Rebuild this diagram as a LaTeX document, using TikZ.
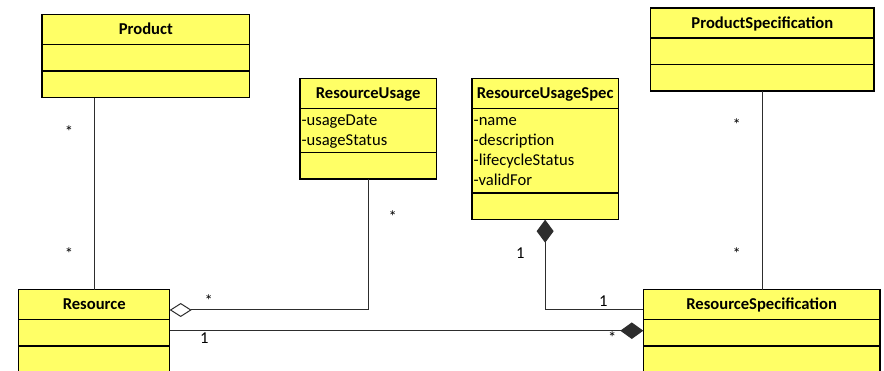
\documentclass[tikz,border=0pt]{standalone}
\usepackage{fontspec}
\setmainfont{Carlito}
\usetikzlibrary{arrows.meta}
\definecolor{clsfill}{RGB}{255,255,102}
\definecolor{linecol}{RGB}{45,45,45}
\tikzset{
 cls/.style={rectangle, draw=black, line width=1.3pt, fill=clsfill, inner sep=0pt, outer sep=0pt},
 divider/.style={draw=black, line width=1.3pt},
 ttl/.style={font=\bfseries\fontsize{16.6}{20}\selectfont, anchor=base, inner sep=0pt},
 attr/.style={font=\fontsize{16.6}{20}\selectfont, anchor=base west, inner sep=0pt},
 mult/.style={font=\fontsize{16.6}{20}\selectfont, anchor=base, inner sep=0pt},
 conn/.style={draw=linecol, line width=1pt},
 aggr/.style={conn, arrows={Diamond[open, length=22pt, width=14pt, line width=1pt]-}},
 compS/.style={conn, arrows={Diamond[length=23pt, width=17pt]-}},
 compE/.style={conn, arrows={-Diamond[length=23pt, width=16.5pt]}},
}
% name, x1, y1, x2, y2, divider1, divider2
\newcommand{\umlcls}[7]{%
 \node[cls, minimum width={#4-#2}, minimum height={#5-#3}] (#1) at ({(#2+#4)/2},{(#3+#5)/2}) {};
 \draw[divider] (#1.west |- 0,#6) -- (#1.east |- 0,#6);
 \draw[divider] (#1.west |- 0,#7) -- (#1.east |- 0,#7);
}
\begin{document}
\begin{tikzpicture}[x=1pt,y=-1pt]
\useasboundingbox (0,0) rectangle (884,371);
\clip (0,0) rectangle (884,371);

% classes
\umlcls{product}{42}{14.3}{249.7}{97.7}{44.3}{71}
\node[ttl] (product-t) at (145.85,34.6) {Product};

\umlcls{ru}{300}{78.7}{436.3}{179}{108.7}{152.3}
\node[ttl] (ru-t) at (368.15,99) {ResourceUsage};
\node[attr] (ru-a1) at (301.3,126) {-usageDate};
\node[attr] (ru-a2) at (301.3,146) {-usageStatus};

\umlcls{rus}{472}{78.7}{618.3}{219.7}{108.7}{193}
\node[ttl] (rus-t) at (545.15,99) {ResourceUsageSpec};
\node[attr] (rus-a1) at (473.5,126) {-name};
\node[attr] (rus-a2) at (473.5,146) {-description};
\node[attr] (rus-a3) at (473.5,166) {-lifecycleStatus};
\node[attr] (rus-a4) at (473.5,186) {-validFor};

\umlcls{ps}{650.7}{8}{874}{91}{38}{64.7}
\node[ttl] (ps-t) at (762.35,28.3) {ProductSpecification};

\umlcls{resource}{18.7}{289.7}{169.7}{372.7}{319.7}{346}
\node[ttl] (resource-t) at (94.2,310) {Resource};

\umlcls{rs}{643.3}{289.7}{880}{372.7}{319.7}{346}
\node[ttl] (rs-t) at (761.65,310) {ResourceSpecification};

% connectors
\draw[conn] (resource.north) -- (resource.north |- product.south);

\coordinate (aggS) at (resource.east |- 0,310);
\draw[aggr] (aggS) -- (aggS -| ru.south) -- (ru.south);

\coordinate (rrS) at (resource.east |- 0,330.7);
\draw[compE] (rrS) -- (rrS -| rs.west);

\coordinate (rsL) at (rs.west |- 0,310);
\draw[compS] (rus.south) |- (rsL);

\draw[conn] (ps.south) -- (ps.south |- rs.north);

% multiplicities
\node[mult] (m1) at (69,137.5) {*};
\node[mult] (m2) at (69,259.5) {*};
\node[mult] (m3) at (392.7,222.5) {*};
\node[mult] (m4) at (208.7,306.5) {*};
\node[mult] (m5) at (204.3,344) {1};
\node[mult] (m6) at (520.3,259) {1};
\node[mult] (m7) at (603.3,306.7) {1};
\node[mult] (m8) at (612.3,343.5) {*};
\node[mult] (m9) at (736.7,130.8) {*};
\node[mult] (m10) at (736.7,259.8) {*};
\end{tikzpicture}
\end{document}
